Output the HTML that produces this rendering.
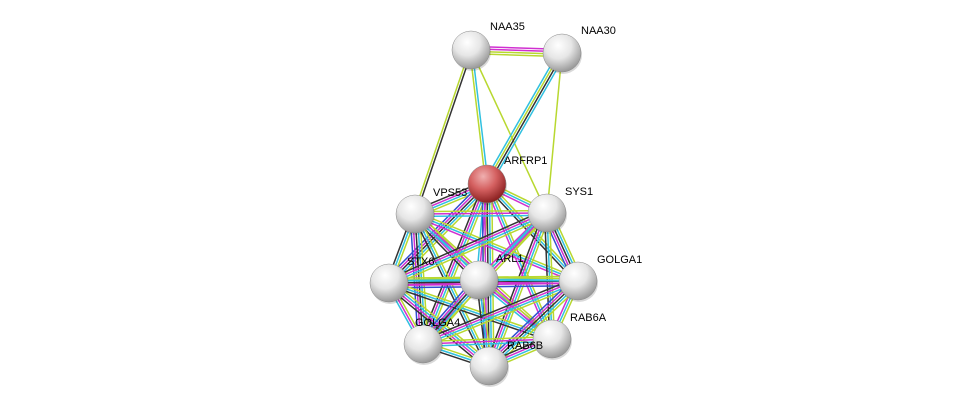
<!DOCTYPE html>
<html><head><meta charset="utf-8"><style>
html,body{margin:0;padding:0;background:#fff;width:976px;height:411px;overflow:hidden}
svg text{font-family:"Liberation Sans",sans-serif;font-size:11px;fill:#000}
</style></head><body>
<svg id="s" width="976" height="411" xmlns="http://www.w3.org/2000/svg">
<defs>
<radialGradient id="gw" cx="40%" cy="30%" r="70%">
<stop offset="0" stop-color="#ffffff"/><stop offset="0.5" stop-color="#e6e6e6"/><stop offset="1" stop-color="#9a9a9a"/></radialGradient>
<radialGradient id="gr" cx="40%" cy="30%" r="70%">
<stop offset="0" stop-color="#f0b0b0"/><stop offset="0.5" stop-color="#d46060"/><stop offset="1" stop-color="#8a2020"/></radialGradient>
</defs>
<g id="e"></g><g id="n"></g>
</svg>
<script>
var N={NAA35:[471,50],NAA30:[562,53],ARFRP1:[487,184],VPS53:[415,214],SYS1:[547,213],STX6:[389,283],ARL1:[479,280],GOLGA1:[578,281],GOLGA4:[423,344],RAB6A:[552,339],RAB6B:[489,366]};
var Y="#b8d830",C="#30c0e0",M="#d030d0",K="#333333",B="#3050d0";
var E=[["NAA35","NAA30",[M,M,Y,Y]],["NAA35","ARFRP1",[C,Y]],["NAA35","VPS53",[K,Y]],["NAA35","SYS1",[Y]],["NAA30","ARFRP1",[C,K,Y,C]],["NAA30","SYS1",[Y]]];
var cl=["ARFRP1","VPS53","SYS1","STX6","ARL1","GOLGA1","GOLGA4","RAB6A","RAB6B"];
var sets=[[Y,C,M,K],[Y,C,M],[Y,C,K,M,B],[Y,M,C],[Y,C,K]];
var k=0;
for(var i=0;i<cl.length;i++)for(var j=i+1;j<cl.length;j++){E.push([cl[i],cl[j],sets[k%sets.length]]);k++;}
var g=document.getElementById("e"),h="";
E.forEach(function(e){var a=N[e[0]],b=N[e[1]],dx=b[0]-a[0],dy=b[1]-a[1],L=Math.hypot(dx,dy),px=-dy/L,py=dx/L,n=e[2].length;
e[2].forEach(function(c,t){var o=(t-(n-1)/2)*2.4;h+='<line x1="'+(a[0]+px*o)+'" y1="'+(a[1]+py*o)+'" x2="'+(b[0]+px*o)+'" y2="'+(b[1]+py*o)+'" stroke="'+c+'" stroke-width="1.5"/>';});});
g.innerHTML=h;
var lab={NAA35:[19,-20],NAA30:[19,-19],ARFRP1:[17,-20],VPS53:[18,-18],SYS1:[18,-18],STX6:[18,-18],ARL1:[17,-18],GOLGA1:[19,-18],GOLGA4:[-8,-18],RAB6A:[18,-18],RAB6B:[18,-17]};
h="";
for(var nm in N){var p=N[nm];h+='<circle cx="'+(p[0]+1)+'" cy="'+(p[1]+2)+'" r="19" fill="#000" opacity="0.15"/>';
h+='<circle cx="'+p[0]+'" cy="'+p[1]+'" r="19" fill="url(#'+(nm=="ARFRP1"?"gr":"gw")+')" stroke="#888" stroke-width="0.5"/>';
h+='<text x="'+(p[0]+lab[nm][0])+'" y="'+(p[1]+lab[nm][1])+'">'+nm+'</text>';}
document.getElementById("n").innerHTML=h;
</script>
</body></html>
